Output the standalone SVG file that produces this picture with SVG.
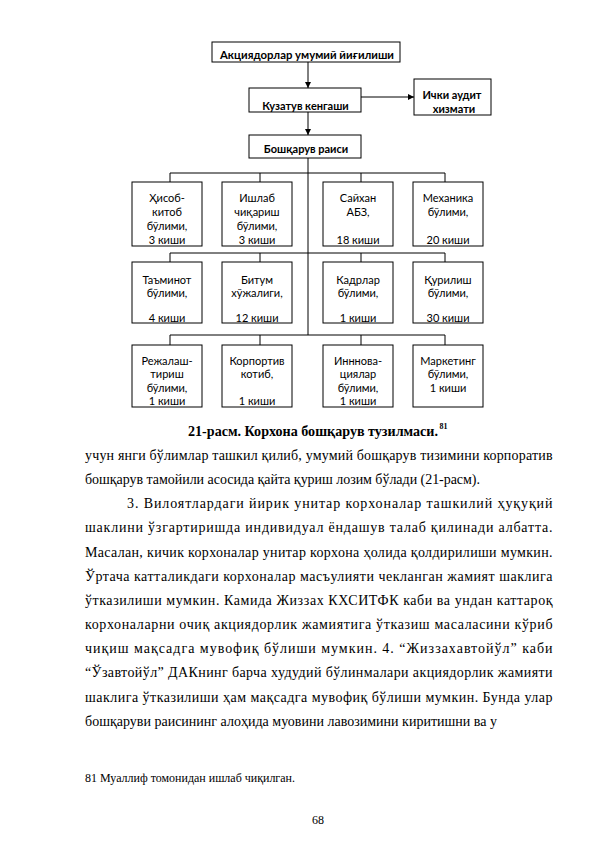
<svg xmlns="http://www.w3.org/2000/svg" width="595" height="842" viewBox="0 0 595 842">
<style>
.bx{fill:#fff;stroke:#000;stroke-width:1}
.ln{fill:none;stroke:#000;stroke-width:1}
.t{font-family:Lato,"Liberation Sans",sans-serif;font-size:11px;fill:#000;text-anchor:middle}
.tb{font-family:Lato,"Liberation Sans",sans-serif;font-size:11px;font-weight:bold;fill:#000;text-anchor:middle}
.body{font-family:"Liberation Serif","Times New Roman",serif;font-size:14px;fill:#000}
.cap{font-family:"Liberation Serif","Times New Roman",serif;font-size:14px;font-weight:bold;fill:#000}
.sup{font-family:"Liberation Serif","Times New Roman",serif;font-size:8px;font-weight:bold;fill:#000}
.fn{font-family:"Liberation Serif","Times New Roman",serif;font-size:12px;fill:#000}
</style>
<defs>
<marker id="ar" viewBox="0 0 6 6" refX="6" refY="3" markerWidth="6" markerHeight="6" markerUnits="userSpaceOnUse" orient="auto">
<path d="M0,0 L6,3 L0,6 z" fill="#000"/>
</marker>
</defs>
<rect width="595" height="842" fill="#fff"/>

<g id="connectors">
<line class="ln" x1="308" y1="62" x2="308" y2="88" marker-end="url(#ar)"/>
<line class="ln" x1="308" y1="112" x2="308" y2="135" marker-end="url(#ar)"/>
<line class="ln" x1="361" y1="97" x2="414" y2="97" marker-end="url(#ar)"/>
<line class="ln" x1="308" y1="158" x2="308" y2="335"/>
<path class="ln" d="M170,182 V173 H445 V182 M260,173 V182 M361,173 V182"/>
<path class="ln" d="M170,262 V253 H445 V262 M260,253 V262 M361,253 V262"/>
<path class="ln" d="M170,345 V335 H445 V345 M260,335 V345 M361,335 V345"/>
</g>

<g id="n-top"><rect class="bx" x="212" y="42" width="188" height="20"/><text class="tb" x="307" y="58.5" textLength="174" lengthAdjust="spacingAndGlyphs">Акциядорлар умумий йиғилиши</text></g>
<g id="n-kuzatuv"><rect class="bx" x="249" y="88" width="112" height="24"/><text class="tb" x="305.5" y="109.5">Кузатув кенгаши</text></g>
<g id="n-audit"><rect class="bx" x="414" y="79" width="77" height="36"/><text class="tb" x="452" y="99">Ички аудит</text><text class="tb" x="454" y="113">хизмати</text></g>
<g id="n-rais"><rect class="bx" x="249" y="135" width="112" height="23"/><text class="tb" x="306" y="152.5">Бошқарув раиси</text></g>

<g id="n-hisob"><rect class="bx" x="132" y="182" width="70" height="64"/><text class="t" x="167" y="202">Ҳисоб-</text><text class="t" x="167" y="216">китоб</text><text class="t" x="167" y="230">бўлими,</text><text class="t" x="167" y="244">3 киши</text></g>
<g id="n-ishlab"><rect class="bx" x="222" y="182" width="70" height="64"/><text class="t" x="257" y="202">Ишлаб</text><text class="t" x="257" y="216">чиқариш</text><text class="t" x="257" y="230">бўлими,</text><text class="t" x="257" y="244">3 киши</text></g>
<g id="n-sayhan"><rect class="bx" x="323" y="182" width="70" height="64"/><text class="t" x="358" y="202">Сайхан</text><text class="t" x="358" y="216">АБЗ,</text><text class="t" x="358" y="244">18 киши</text></g>
<g id="n-mexanika"><rect class="bx" x="413" y="182" width="70" height="64"/><text class="t" x="448" y="202">Механика</text><text class="t" x="448" y="216">бўлими,</text><text class="t" x="448" y="244">20 киши</text></g>

<g id="n-taminot"><rect class="bx" x="132" y="262" width="70" height="61"/><text class="t" x="167" y="283.5">Таъминот</text><text class="t" x="167" y="296.5">бўлими,</text><text class="t" x="167" y="322">4 киши</text></g>
<g id="n-bitum"><rect class="bx" x="222" y="262" width="70" height="61"/><text class="t" x="257" y="283.5">Битум</text><text class="t" x="257" y="296.5">хўжалиги,</text><text class="t" x="257" y="322">12 киши</text></g>
<g id="n-kadr"><rect class="bx" x="323" y="262" width="70" height="61"/><text class="t" x="358" y="283.5">Кадрлар</text><text class="t" x="358" y="296.5">бўлими,</text><text class="t" x="358" y="322">1 киши</text></g>
<g id="n-qurilish"><rect class="bx" x="413" y="262" width="70" height="61"/><text class="t" x="448" y="283.5">Қурилиш</text><text class="t" x="448" y="296.5">бўлими,</text><text class="t" x="448" y="322">30 киши</text></g>

<g id="n-reja"><rect class="bx" x="132" y="345" width="70" height="62"/><text class="t" x="167" y="365">Режалаш-</text><text class="t" x="167" y="378.3">тириш</text><text class="t" x="167" y="391.6">бўлими,</text><text class="t" x="167" y="405">1 киши</text></g>
<g id="n-korp"><rect class="bx" x="222" y="345" width="70" height="62"/><text class="t" x="257" y="365">Корпортив</text><text class="t" x="257" y="378.3">котиб,</text><text class="t" x="257" y="405">1 киши</text></g>
<g id="n-innov"><rect class="bx" x="323" y="345" width="70" height="62"/><text class="t" x="358" y="365">Инннова-</text><text class="t" x="358" y="378.3">циялар</text><text class="t" x="358" y="391.6">бўлими,</text><text class="t" x="358" y="405">1 киши</text></g>
<g id="n-market"><rect class="bx" x="413" y="345" width="70" height="62"/><text class="t" x="448" y="365">Маркетинг</text><text class="t" x="448" y="378.3">бўлими,</text><text class="t" x="448" y="391.6">1 киши</text></g>

<g id="caption">
<text class="cap" x="188" y="436" textLength="250" lengthAdjust="spacingAndGlyphs">21-расм. Корхона бошқарув тузилмаси.</text>
<text class="sup" x="439.5" y="429">81</text>
</g>

<g id="body">
<text class="body" x="85" y="460" textLength="467.5" lengthAdjust="spacing">учун янги бўлимлар ташкил қилиб, умумий бошқарув тизимини корпоратив</text>
<text class="body" x="85" y="484.15" textLength="395" lengthAdjust="spacing">бошқарув тамойили асосида қайта қуриш лозим бўлади (21-расм).</text>
<text class="body" x="127" y="508.3" textLength="425.5" lengthAdjust="spacing">3. Вилоятлардаги йирик унитар корхоналар ташкилий ҳуқуқий</text>
<text class="body" x="85" y="532.45" textLength="467.5" lengthAdjust="spacing">шаклини ўзгартиришда индивидуал ёндашув талаб қилинади албатта.</text>
<text class="body" x="85" y="556.6" textLength="467.5" lengthAdjust="spacing">Масалан, кичик корхоналар унитар корхона ҳолида қолдирилиши мумкин.</text>
<text class="body" x="85" y="580.75" textLength="467.5" lengthAdjust="spacing">Ўртача катталикдаги корхоналар масъулияти чекланган жамият шаклига</text>
<text class="body" x="85" y="604.9" textLength="467.5" lengthAdjust="spacing">ўтказилиши мумкин. Камида Жиззах КХСИТФК каби ва ундан каттароқ</text>
<text class="body" x="85" y="629.05" textLength="467.5" lengthAdjust="spacing">корхоналарни очиқ акциядорлик жамиятига ўтказиш масаласини кўриб</text>
<text class="body" x="85" y="653.2" textLength="467.5" lengthAdjust="spacing">чиқиш мақсадга мувофиқ бўлиши мумкин. 4. “Жиззахавтойўл” каби</text>
<text class="body" x="85" y="677.35" textLength="467.5" lengthAdjust="spacing">“Ўзавтойўл” ДАКнинг барча худудий бўлинмалари акциядорлик жамияти</text>
<text class="body" x="85" y="701.5" textLength="467.5" lengthAdjust="spacing">шаклига ўтказилиши ҳам мақсадга мувофиқ бўлиши мумкин. Бунда улар</text>
<text class="body" x="85" y="725.65" textLength="412" lengthAdjust="spacing">бошқаруви раисининг алоҳида муовини лавозимини киритишни ва у</text>
</g>

<g id="footnote">
<text class="fn" x="85" y="782" textLength="210" lengthAdjust="spacingAndGlyphs">81 Муаллиф томонидан ишлаб чиқилган.</text>
<text class="fn" x="318" y="824" text-anchor="middle">68</text>
</g>
</svg>
